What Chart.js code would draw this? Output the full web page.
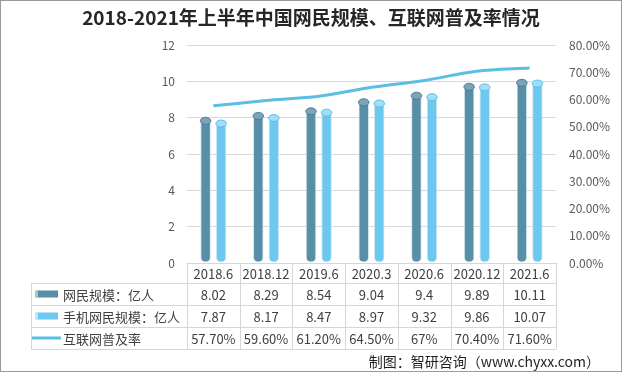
<!DOCTYPE html>
<html>
<head>
<meta charset="utf-8">
<script src="https://cdn.jsdelivr.net/npm/chart.js@4.4.1/dist/chart.umd.min.js"></script>
<style>
  html, body { margin: 0; padding: 0; background: #fff; }
  .wrap { position: relative; width: 622px; height: 372px; font-family: "Noto Sans CJK SC", sans-serif; }
  .frame { position: absolute; left: 0; top: 0; width: 622px; height: 372px; box-sizing: border-box; border: 1px solid #9a9a9a; pointer-events: none; }
  .title { position: absolute; left: 0; top: 4px; width: 622px; text-align: center; font-size: 19px; font-weight: bold; color: #262626; line-height: 26px; }
  .source { position: absolute; right: 22px; top: 351px; font-size: 14px; color: #1f1f1f; line-height: 20px; }
  canvas { position: absolute; left: 0; top: 0; }
</style>
</head>
<body>
<div class="wrap">
  <canvas id="chart" width="622" height="372"></canvas>
  <div class="title">2018-2021年上半年中国网民规模、互联网普及率情况</div>
  <div class="source">制图：智研咨询（www.chyxx.com）</div>
  <div class="frame"></div>
</div>
<script>
const categories = ['2018.6', '2018.12', '2019.6', '2020.3', '2020.6', '2020.12', '2021.6'];
const netizens = [8.02, 8.29, 8.54, 9.04, 9.4, 9.89, 10.11];
const mobileNetizens = [7.87, 8.17, 8.47, 8.97, 9.32, 9.86, 10.07];
const penetration = [57.7, 59.6, 61.2, 64.5, 67, 70.4, 71.6];
const seriesNames = ['网民规模：亿人', '手机网民规模：亿人', '互联网普及率'];
const leftMax = 12, leftStep = 2;
const rightMax = 80, rightStep = 10;

const darkBlue = '#598ea7';
const lightBlue = '#6cc8ef';
const lineBlue = '#5bbfe4';
const textColor = '#404040';
const cjk = '"Noto Sans CJK SC", sans-serif';

// formats the table cells like the spreadsheet did
function pct(v) {
    return Number.isInteger(v) ? v + '%' : v.toFixed(2) + '%';
}

// cylinder caps on the bars
const cylinderCaps = {
    id: 'cylinderCaps',
    afterDatasetsDraw(chart) {
        const ctx = chart.ctx;
        const caps = [['#7da3b6', '#4b7f98'], ['#a2def7', '#5fbde6']];
        [0, 1].forEach(i => {
            chart.getDatasetMeta(i).data.forEach(bar => {
                const rx = bar.width / 2;
                ctx.save();
                ctx.beginPath();
                ctx.ellipse(bar.x, bar.y + 3.5, rx, 3.5, 0, 0, Math.PI * 2);
                ctx.fillStyle = caps[i][0];
                ctx.fill();
                ctx.lineWidth = 1;
                ctx.strokeStyle = caps[i][1];
                ctx.stroke();
                ctx.restore();
            });
        });
    }
};

// data table under the plot
const dataTable = {
    id: 'dataTable',
    afterDraw(chart) {
        const ctx = chart.ctx;
        const area = chart.chartArea;
        const xs = chart.scales.x;
        const colW = xs.getPixelForValue(1) - xs.getPixelForValue(0);
        const top = area.bottom;
        const rows = [top, top + 20, top + 42, top + 64, top + 86];
        const boxLeft = 31;

        ctx.save();
        ctx.strokeStyle = '#d6d6d6';
        ctx.lineWidth = 1;
        ctx.beginPath();
        ctx.moveTo(area.left, rows[0] + 0.5);
        ctx.lineTo(area.right, rows[0] + 0.5);
        for (let r = 1; r < rows.length; r++) {
            ctx.moveTo(boxLeft, rows[r] + 0.5);
            ctx.lineTo(area.right, rows[r] + 0.5);
        }
        ctx.moveTo(boxLeft + 0.5, rows[1]);
        ctx.lineTo(boxLeft + 0.5, rows[4]);
        for (let c = 0; c <= categories.length; c++) {
            const x = Math.round(area.left + c * colW) + 0.5;
            ctx.moveTo(x, rows[0]);
            ctx.lineTo(x, rows[4]);
        }
        ctx.stroke();

        ctx.fillStyle = textColor;
        ctx.font = '13px ' + cjk;
        ctx.textBaseline = 'middle';
        ctx.textAlign = 'center';
        const cells = [categories, netizens.map(String), mobileNetizens.map(String), penetration.map(pct)];
        cells.forEach((row, r) => {
            const y = (rows[r] + rows[r + 1]) / 2 + 1;
            row.forEach((t, i) => ctx.fillText(t, xs.getPixelForValue(i), y));
        });

        ctx.textAlign = 'left';
        seriesNames.forEach((name, r) => {
            ctx.fillText(name, 63, (rows[r + 1] + rows[r + 2]) / 2 + 1);
        });

        // legend keys
        const y1 = (rows[1] + rows[2]) / 2;
        const y2 = (rows[2] + rows[3]) / 2;
        const y3 = (rows[3] + rows[4]) / 2;
        ctx.fillStyle = darkBlue;
        ctx.fillRect(36, y1 - 3.5, 22, 7);
        ctx.fillStyle = '#a9c6d4';
        ctx.fillRect(35, y1 - 3.5, 3, 7);
        ctx.fillStyle = lightBlue;
        ctx.fillRect(36, y2 - 3.5, 22, 7);
        ctx.fillStyle = '#bfe6f7';
        ctx.fillRect(35, y2 - 3.5, 3, 7);
        ctx.strokeStyle = lineBlue;
        ctx.lineWidth = 3;
        ctx.beginPath();
        ctx.moveTo(32, y3);
        ctx.lineTo(61, y3);
        ctx.stroke();
        ctx.restore();
    }
};

const barStyle = {
    yAxisID: 'y',
    categoryPercentage: 0.59,
    barPercentage: 0.68,
    borderRadius: 5,
    borderSkipped: false,
    borderWidth: 1,
    borderColor: 'rgba(205,228,238,0.9)',
    order: 2
};

new Chart(document.getElementById('chart'), {
    type: 'bar',
    data: {
        labels: categories,
        datasets: [
            Object.assign({ label: seriesNames[0], data: netizens, backgroundColor: darkBlue }, barStyle),
            Object.assign({ label: seriesNames[1], data: mobileNetizens, backgroundColor: lightBlue }, barStyle),
            {
                type: 'line',
                label: seriesNames[2],
                data: penetration,
                yAxisID: 'y1',
                borderColor: lineBlue,
                borderWidth: 3,
                pointRadius: 0,
                tension: 0.3,
                fill: false,
                order: 1
            }
        ]
    },
    options: {
        responsive: false,
        animation: false,
        layout: { padding: { left: 150, right: 0, top: 45, bottom: 109 } },
        plugins: {
            legend: { display: false },
            tooltip: { enabled: false }
        },
        scales: {
            x: { display: false },
            y: {
                min: 0,
                max: leftMax,
                ticks: { stepSize: leftStep, color: '#595959', padding: 12, font: { size: 12, family: cjk } },
                grid: { color: '#d9d9d9', drawTicks: false },
                border: { display: false },
                afterFit(s) { s.width = 37; }
            },
            y1: {
                position: 'right',
                min: 0,
                max: rightMax,
                ticks: {
                    stepSize: rightStep,
                    color: '#595959',
                    padding: 13,
                    font: { size: 12, family: cjk },
                    callback: v => v.toFixed(2) + '%'
                },
                grid: { drawOnChartArea: false, drawTicks: false },
                border: { display: false },
                afterFit(s) { s.width = 66; }
            }
        }
    },
    plugins: [cylinderCaps, dataTable]
});
</script>
</body>
</html>
